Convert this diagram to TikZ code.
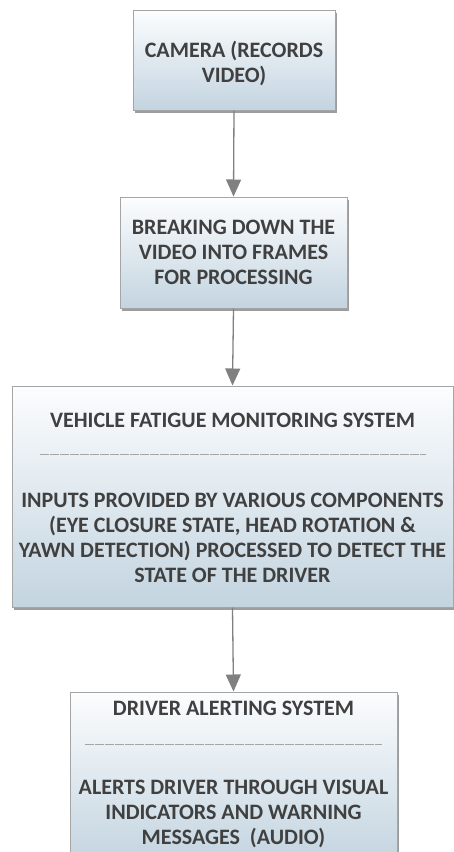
\documentclass[tikz,border=0pt]{standalone}
\usepackage{fontspec}
\setmainfont{Carlito}
\usepackage{tikz}
\usetikzlibrary{shadows,arrows.meta}

\definecolor{boxTop}{RGB}{252,253,254}
\definecolor{boxBottom}{RGB}{195,212,224}
\definecolor{boxLine}{RGB}{165,165,165}
\definecolor{txtColor}{RGB}{64,64,64}
\definecolor{arrColor}{RGB}{128,128,128}

\tikzset{
  flowbox/.style={draw=boxLine, line width=1pt, top color=boxTop, bottom color=boxBottom, inner sep=0pt,
    drop shadow={shadow xshift=1.5pt, shadow yshift=-2.5pt, fill=black!55, opacity=0.7}},
  boxtext/.style={text=txtColor, align=center, font=\fontsize{22}{25}\selectfont\bfseries, inner sep=0pt},
  flowarrow/.style={draw=arrColor, line width=1.3pt, ->, >={Triangle[width=15pt,length=17pt]}}
}

\begin{document}
\begin{tikzpicture}[x=1pt,y=1pt]
\useasboundingbox (0,0) rectangle (454,-852);
% boxes
\node[flowbox, minimum width=202pt, minimum height=100pt] (camera) at (234,-60) {};
\node[boxtext] (cameraText) at (234,-63) {CAMERA (RECORDS\\VIDEO)};
\node[flowbox, minimum width=227pt, minimum height=111pt] (frames) at (233.5,-252.5) {};
\node[boxtext] (framesText) at (233.5,-252) {BREAKING DOWN THE\\VIDEO INTO FRAMES\\FOR PROCESSING};
\node[flowbox, minimum width=441pt, minimum height=221pt] (fatigue) at (232.5,-496.5) {};
\node[boxtext] (fatigueTitle) at (232.5,-420.5) {VEHICLE FATIGUE MONITORING SYSTEM};
\node[boxtext] (fatigueText) at (232.5,-538) {INPUTS PROVIDED BY VARIOUS COMPONENTS\\(EYE CLOSURE STATE, HEAD ROTATION \&\\YAWN DETECTION) PROCESSED TO DETECT THE\\STATE OF THE DRIVER};
\node[flowbox, minimum width=327pt, minimum height=170pt] (alert) at (233.5,-777) {};
\node[boxtext] (alertTitle) at (233.5,-708.5) {DRIVER ALERTING SYSTEM};
\node[boxtext] (alertText) at (233.5,-814) {ALERTS DRIVER THROUGH VISUAL\\INDICATORS AND WARNING\\MESSAGES~~(AUDIO)};
% separators
\coordinate (sepA) at (40,-454);
\coordinate (sepB) at (426,-454);
\draw[boxLine, line width=1pt, dash pattern=on 9pt off 1pt] (sepA) -- (sepB);
\coordinate (sepC) at (85,-744);
\coordinate (sepD) at (382,-744);
\draw[boxLine, line width=1pt, dash pattern=on 9pt off 1pt] (sepC) -- (sepD);
% arrows
\draw[flowarrow] (camera.south) -- (frames.north);
\draw[flowarrow] (frames.south) -- (fatigue.north);
\draw[flowarrow] (fatigue.south) -- (alert.north);
\end{tikzpicture}
\end{document}
